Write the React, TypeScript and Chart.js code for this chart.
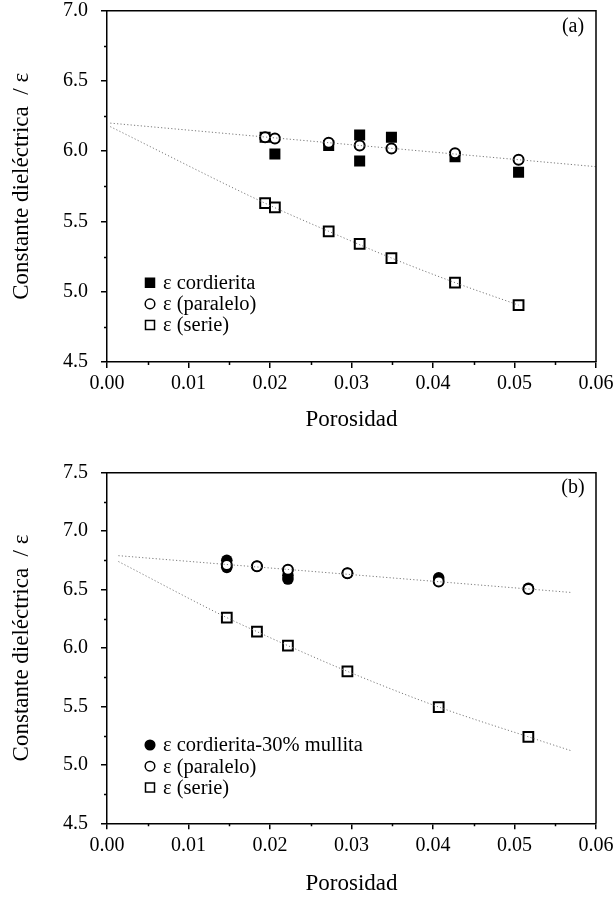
import React, { useEffect, useRef } from "react";
import { Chart, registerables } from "chart.js";

Chart.register(...registerables);

// ---------- Panel (a) data ----------
const aCordX = [0.0194, 0.0206, 0.0272, 0.031, 0.031, 0.0349, 0.0427, 0.0505];
const aCordY = [6.1, 5.98, 6.04, 6.115, 5.93, 6.1, 5.96, 5.85];
const aParX = [0.0194, 0.0206, 0.0272, 0.031, 0.0349, 0.0427, 0.0505];
const aParY = [6.1, 6.09, 6.06, 6.04, 6.02, 5.985, 5.94];
const aSerX = [0.0194, 0.0206, 0.0272, 0.031, 0.0349, 0.0427, 0.0505];
const aSerY = [5.63, 5.6, 5.43, 5.34, 5.24, 5.065, 4.905];
const aParFitX = [0.0004, 0.06];
const aParFitY = [6.2, 5.89];
const aSerFitX = [0.0004, 0.0194, 0.0272, 0.0349, 0.0427, 0.0505];
const aSerFitY = [6.175, 5.63, 5.43, 5.24, 5.065, 4.905];

// ---------- Panel (b) data ----------
const bMulX = [0.0147, 0.0147, 0.0184, 0.0222, 0.0222, 0.0295, 0.0407, 0.0517];
const bMulY = [6.75, 6.69, 6.7, 6.62, 6.59, 6.64, 6.6, 6.51];
const bParX = [0.0147, 0.0184, 0.0222, 0.0295, 0.0407, 0.0517];
const bParY = [6.71, 6.7, 6.67, 6.64, 6.57, 6.505];
const bSerX = [0.0147, 0.0184, 0.0222, 0.0295, 0.0407, 0.0517];
const bSerY = [6.26, 6.14, 6.02, 5.8, 5.495, 5.24];
const bParFitX = [0.0014, 0.057];
const bParFitY = [6.79, 6.475];
const bSerFitX = [0.0014, 0.0147, 0.0184, 0.0222, 0.0295, 0.0407, 0.0517, 0.057];
const bSerFitY = [6.74, 6.26, 6.14, 6.02, 5.8, 5.495, 5.24, 5.12];

// ---------- Axes / labels ----------
const xTitle = "Porosidad";
const yTitle = "Constante dieléctrica  / ε";
const aLegend = ["ε cordierita", "ε (paralelo)", "ε (serie)"];
const bLegend = ["ε cordierita-30% mullita", "ε (paralelo)", "ε (serie)"];
const aTag = "(a)";
const bTag = "(b)";

const SERIF = "'Liberation Serif', 'Times New Roman', serif";

const zip = (xs: number[], ys: number[]) => xs.map((x, i) => ({ x, y: ys[i] }));

const decorPlugin = {
  id: "decor",
  afterDraw(chart: any, _args: any, opts: any) {
    const { ctx, chartArea: a, scales } = chart;
    ctx.save();
    ctx.strokeStyle = "#000";
    ctx.lineWidth = 1.5;
    // frame top & right
    ctx.beginPath();
    ctx.moveTo(a.left, a.top);
    ctx.lineTo(a.right, a.top);
    ctx.lineTo(a.right, a.bottom);
    ctx.stroke();
    // minor ticks
    ctx.beginPath();
    for (let v = 0.005; v < 0.06; v += 0.01) {
      const px = Math.round(scales.x.getPixelForValue(v)) + 0.5;
      ctx.moveTo(px, a.bottom);
      ctx.lineTo(px, a.bottom + 3);
    }
    for (let v = opts.yMin + 0.25; v < opts.yMax; v += 0.5) {
      const py = Math.round(scales.y.getPixelForValue(v)) + 0.5;
      ctx.moveTo(a.left - 3, py);
      ctx.lineTo(a.left, py);
    }
    ctx.stroke();
    // panel tag
    ctx.fillStyle = "#000";
    ctx.font = `20px ${SERIF}`;
    ctx.textAlign = "center";
    ctx.textBaseline = "middle";
    ctx.fillText(opts.tag, a.right - 23, a.top + opts.tagDy);
    // legend
    ctx.textAlign = "left";
    ctx.font = `20.5px ${SERIF}`;
    opts.legend.forEach((item: any, i: number) => {
      const cx = a.left + opts.legX;
      const cy = a.top + opts.legY + i * opts.legDy;
      ctx.lineWidth = 1.5;
      ctx.strokeStyle = "#000";
      ctx.fillStyle = item.fill;
      ctx.beginPath();
      if (item.shape === "rect") {
        ctx.rect(cx - 4.5, cy - 4.5, 9, 9);
      } else {
        ctx.arc(cx, cy, 4.8, 0, Math.PI * 2);
      }
      ctx.fill();
      ctx.stroke();
      ctx.fillStyle = "#000";
      ctx.fillText(item.text, cx + 13, cy + 1);
    });
    ctx.restore();
  },
};

function makeConfig(p: any) {
  const fitStyle = {
    showLine: true,
    pointRadius: 0,
    borderColor: "#7a7a7a",
    borderWidth: 1,
    borderDash: [1.2, 2.2],
    fill: false,
    order: 0,
  };
  return {
    type: "scatter",
    data: {
      datasets: [
        { data: p.parFit, ...fitStyle },
        { data: p.serFit, ...fitStyle, cubicInterpolationMode: "monotone" },
        {
          data: p.par,
          pointStyle: "circle",
          pointRadius: 5,
          pointBorderWidth: 2,
          pointBackgroundColor: "#fff",
          pointBorderColor: "#000",
          order: 1,
        },
        {
          data: p.main,
          pointStyle: p.mainShape,
          pointRadius: p.mainShape === "rect" ? 7.8 : 5.8,
          pointBorderWidth: 0,
          pointBackgroundColor: "#000",
          pointBorderColor: "#000",
          order: 2,
        },
        {
          data: p.ser,
          pointStyle: "rect",
          pointRadius: 6.9,
          pointBorderWidth: 2,
          pointBackgroundColor: "rgba(255,255,255,0)",
          pointBorderColor: "#000",
          order: 3,
        },
      ],
    },
    options: {
      responsive: false,
      animation: false,
      devicePixelRatio: 1,
      events: [],
      layout: { padding: { left: 0, right: 17, top: p.padTop, bottom: p.padBottom } },
      plugins: {
        legend: { display: false },
        tooltip: { enabled: false },
        decor: {
          yMin: p.yMin,
          yMax: p.yMax,
          tag: p.tag,
          tagDy: p.tagDy,
          legX: 43,
          legY: p.legY,
          legDy: 21.2,
          legend: p.legend,
        },
      },
      scales: {
        x: {
          type: "linear",
          min: 0,
          max: 0.06,
          afterFit: (s: any) => {
            s.height = p.xHeight;
            s.paddingLeft = 0;
            s.paddingRight = 0;
          },
          ticks: {
            stepSize: 0.01,
            color: "#000",
            padding: 4,
            maxRotation: 0,
            font: { family: SERIF, size: 20 },
            callback: (v: number) => Number(v).toFixed(2),
          },
          grid: { drawOnChartArea: false, color: "#000", lineWidth: 1.5, tickLength: 6 },
          border: { color: "#000", width: 1.5 },
          title: {
            display: true,
            text: xTitle,
            color: "#000",
            font: { family: SERIF, size: 23 },
            padding: { top: 0, bottom: 0 },
          },
        },
        y: {
          type: "linear",
          min: p.yMin,
          max: p.yMax,
          afterFit: (s: any) => {
            s.width = 107;
            s.paddingTop = 0;
            s.paddingBottom = 0;
          },
          ticks: {
            stepSize: 0.5,
            color: "#000",
            padding: 13,
            font: { family: SERIF, size: 20 },
            callback: (v: number) => Number(v).toFixed(1),
          },
          grid: { drawOnChartArea: false, color: "#000", lineWidth: 1.5, tickLength: 6 },
          border: { color: "#000", width: 1.5 },
          title: {
            display: true,
            text: yTitle,
            color: "#000",
            font: { family: SERIF, size: 23 },
            padding: { top: 8, bottom: 0 },
          },
        },
      },
    },
    plugins: [decorPlugin],
  };
}

const panelA = {
  parFit: zip(aParFitX, aParFitY),
  serFit: zip(aSerFitX, aSerFitY),
  par: zip(aParX, aParY),
  main: zip(aCordX, aCordY),
  mainShape: "rect",
  ser: zip(aSerX, aSerY),
  yMin: 4.5,
  yMax: 7.0,
  padTop: 10.7,
  padBottom: 16,
  xHeight: 72,
  tag: aTag,
  tagDy: 16,
  legY: 272,
  legend: [
    { shape: "rect", fill: "#000", text: aLegend[0] },
    { shape: "circle", fill: "#fff", text: aLegend[1] },
    { shape: "rect", fill: "#fff", text: aLegend[2] },
  ],
};

const panelB = {
  parFit: zip(bParFitX, bParFitY),
  serFit: zip(bSerFitX, bSerFitY),
  par: zip(bParX, bParY),
  main: zip(bMulX, bMulY),
  mainShape: "circle",
  ser: zip(bSerX, bSerY),
  yMin: 4.5,
  yMax: 7.5,
  padTop: 22.7,
  padBottom: 2,
  xHeight: 74.7,
  tag: bTag,
  tagDy: 15.3,
  legY: 272.3,
  legend: [
    { shape: "circle", fill: "#000", text: bLegend[0] },
    { shape: "circle", fill: "#fff", text: bLegend[1] },
    { shape: "rect", fill: "#fff", text: bLegend[2] },
  ],
};

function Panel({ params, top }: { params: any; top: number }) {
  const ref = useRef<HTMLCanvasElement | null>(null);
  useEffect(() => {
    if (!ref.current) return;
    const chart = new Chart(ref.current, makeConfig(params) as any);
    return () => chart.destroy();
  }, [params]);
  return (
    <canvas
      ref={ref}
      width={613}
      height={450}
      style={{ position: "absolute", left: 0, top, width: 613, height: 450, display: "block" }}
    />
  );
}

export default function App() {
  return (
    <div style={{ position: "absolute", left: 0, top: 0, width: 613, height: 900, background: "#fff" }}>
      <Panel params={panelA} top={0} />
      <Panel params={panelB} top={450} />
    </div>
  );
}
